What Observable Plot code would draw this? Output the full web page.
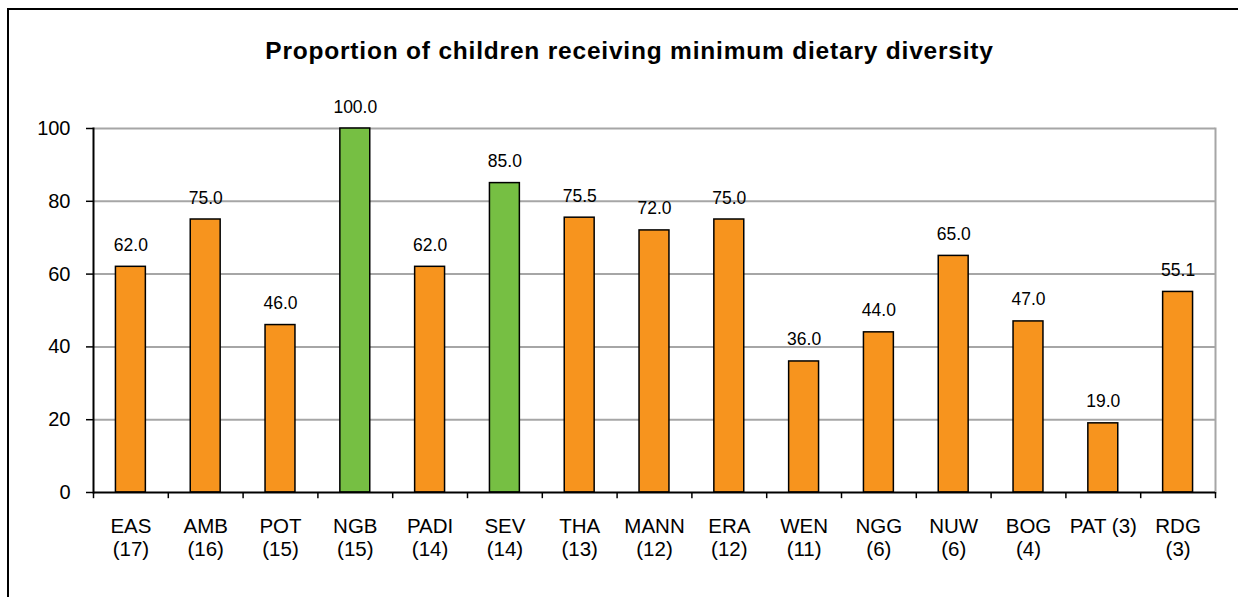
<!DOCTYPE html>
<html>
<head>
<meta charset="utf-8">
<script src="https://cdn.jsdelivr.net/npm/d3@7"></script>
<script src="https://cdn.jsdelivr.net/npm/@observablehq/plot@0.6"></script>
<style>
  html, body { margin: 0; padding: 0; background: #fff; overflow: hidden; }
  body { width: 1238px; height: 597px; position: relative; font-family: "Liberation Sans", Arial, sans-serif; }
  #frame { position: absolute; left: 7px; top: 8px; width: 1300px; height: 700px; border-left: 2px solid #000; border-top: 2px solid #000; box-sizing: border-box; }
  #title { position: absolute; top: 39px; left: 0; width: 1259px; text-align: center; font-size: 24.5px; line-height: 1; letter-spacing: 0.8px; font-weight: bold; color: #000; white-space: nowrap; }
  #chart { position: absolute; left: 0; top: 90px; }
</style>
</head>
<body>
<div id="frame"></div>
<div id="title">Proportion of children receiving minimum dietary diversity</div>
<div id="chart"></div>
<script>
const categories = ["EAS", "AMB", "POT", "NGB", "PADI", "SEV", "THA", "MANN", "ERA", "WEN", "NGG", "NUW", "BOG", "PAT", "RDG"];
const axisLabels = ["EAS\n(17)", "AMB\n(16)", "POT\n(15)", "NGB\n(15)", "PADI\n(14)", "SEV\n(14)", "THA\n(13)", "MANN\n(12)", "ERA\n(12)", "WEN\n(11)", "NGG\n(6)", "NUW\n(6)", "BOG\n(4)", "PAT (3)", "RDG\n(3)"];
const values = [62.0, 75.0, 46.0, 100.0, 62.0, 85.0, 75.5, 72.0, 75.0, 36.0, 44.0, 65.0, 47.0, 19.0, 55.1];
const highlighted = ["NGB", "SEV"];
const yTicks = [0, 20, 40, 60, 80, 100];

const data = categories.map((c, i) => ({cat: c, label: axisLabels[i], value: values[i], hi: highlighted.includes(c)}));

const W = 1238, H = 507;
const mL = 93, mR = 23;
const step = (W - mL - mR) / categories.length;

const chart = Plot.plot({
  width: W,
  height: H,
  marginTop: 38,
  marginBottom: 105,
  marginLeft: mL,
  marginRight: mR,
  style: {fontFamily: "'Liberation Sans', Arial, sans-serif", color: "#000", background: "transparent"},
  x: {domain: categories, paddingInner: 0.6, paddingOuter: 0.3, round: false, axis: null},
  y: {domain: [0, 100], axis: null},
  marks: [
    Plot.ruleY([20, 40, 60, 80, 100], {stroke: "#a6a6a6", strokeWidth: 2}),
    Plot.frame({anchor: "right", stroke: "#a6a6a6", strokeWidth: 2}),
    Plot.barY(data, {x: "cat", y: "value", fill: d => d.hi ? "#76bf43" : "#f7941e", stroke: "#000", strokeWidth: 1.5}),
    Plot.text(data, {x: "cat", y: "value", text: d => d.value.toFixed(1), lineAnchor: "bottom", dy: -16, fontSize: 17.5}),
    Plot.frame({anchor: "left", stroke: "#000", strokeWidth: 2}),
    Plot.ruleY([0], {stroke: "#000", strokeWidth: 2}),
    Plot.ruleX(categories, {x: d => d, y1: 0, y2: -1.7, dx: -step / 2, stroke: "#000", strokeWidth: 1.5}),
    Plot.ruleX([categories[categories.length - 1]], {x: d => d, y1: 0, y2: -1.7, dx: step / 2, stroke: "#000", strokeWidth: 1.5}),
    Plot.axisY(yTicks, {tickSize: 7, tickPadding: 16, fontSize: 20, stroke: "#000", strokeWidth: 1.5, label: null, anchor: "left"}),
    Plot.text(data, {x: "cat", y: 0, text: "label", lineAnchor: "top", dy: 24, lineHeight: 1.12, fontSize: 20.5})
  ]
});
document.getElementById("chart").appendChild(chart);
</script>
</body>
</html>
